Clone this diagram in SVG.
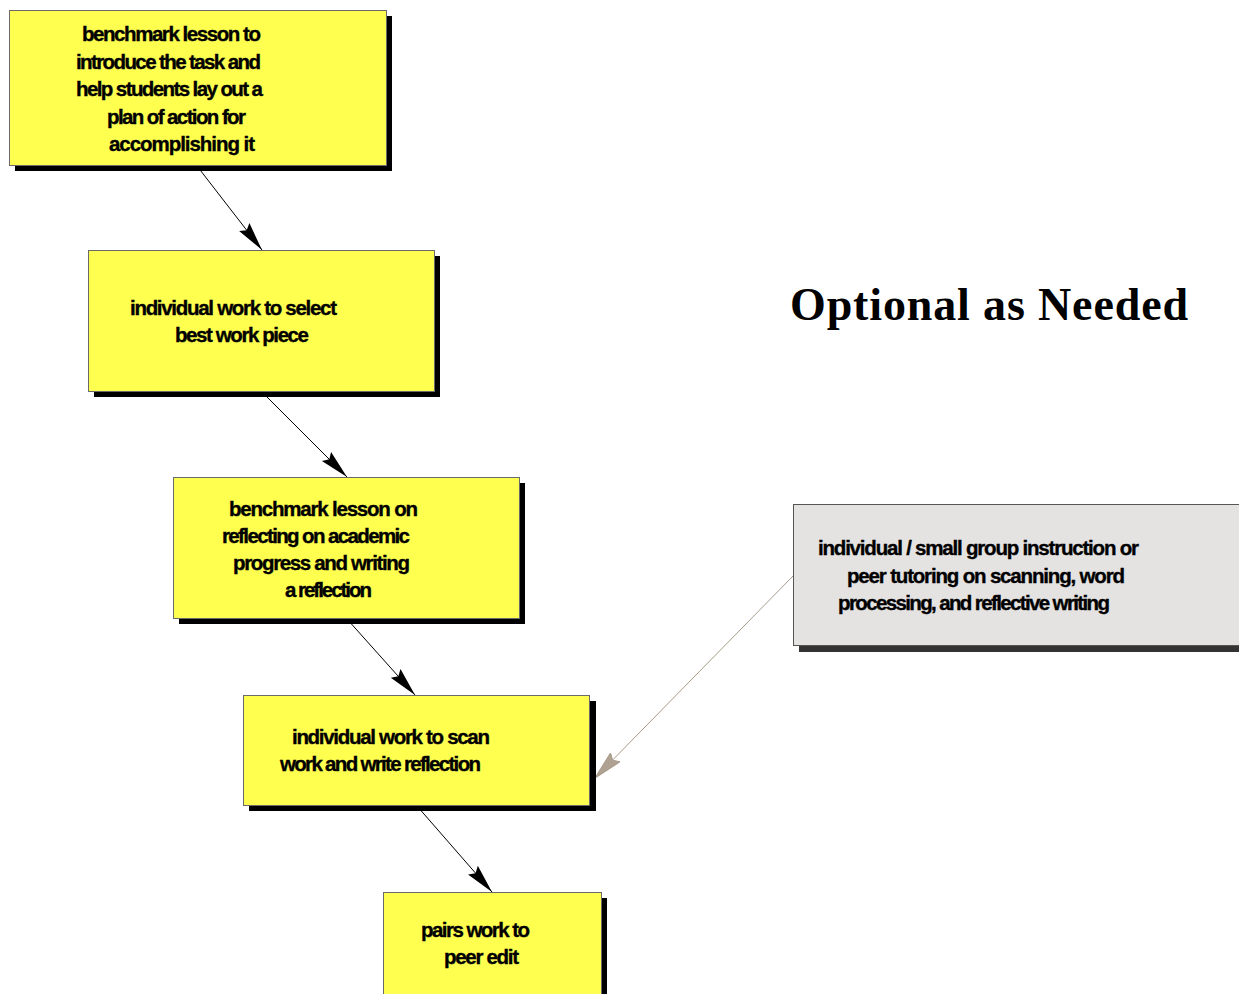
<svg xmlns="http://www.w3.org/2000/svg" width="1239" height="994" viewBox="0 0 1239 994">
<style>
.box{fill:#ffff50;stroke:#6a6a6a;stroke-width:1}
.shadow{fill:#000}
.gbox{fill:#e4e3e2;stroke:#555;stroke-width:1}
.gshadow{fill:#333}
.t{font-family:"Liberation Sans",Arial,sans-serif;font-weight:bold;font-size:20.5px;fill:#000;stroke:#000;stroke-width:0.35}
.title{font-family:"Liberation Serif","Times New Roman",serif;font-weight:bold;font-size:46px;fill:#000}
.conn{stroke:#000;stroke-width:1;fill:none;marker-end:url(#ah)}
.gconn{stroke:#a89a8a;stroke-width:1;fill:none;marker-end:url(#gah)}
</style>
<defs>
<marker id="ah" markerUnits="userSpaceOnUse" markerWidth="32" markerHeight="16" refX="29" refY="8" orient="auto">
<path d="M0,1.5 L29,8 L0,14.5 L4,8 z" fill="#000"/>
</marker>
<marker id="gah" markerUnits="userSpaceOnUse" markerWidth="32" markerHeight="16" refX="29" refY="8" orient="auto">
<path d="M0,1.5 L29,8 L0,14.5 L4,8 z" fill="#b0a292" stroke="#a89a8a" stroke-width="1"/>
</marker>
</defs>
<rect width="1239" height="994" fill="#fff"/>
<g id="connectors">
<line class="conn" x1="197" y1="166" x2="262" y2="250"/>
<line class="conn" x1="262" y1="392" x2="347" y2="477"/>
<line class="conn" x1="347" y1="619" x2="415" y2="695"/>
<line class="conn" x1="417" y1="806" x2="492" y2="892"/>
<line class="gconn" x1="793" y1="576" x2="595" y2="778"/>
</g>
<g id="node1">
<rect class="shadow" x="15" y="16" width="377" height="155"/>
<rect class="box" x="9.5" y="10.5" width="377" height="155"/>
<text class="t" x="82" y="41" textLength="179" lengthAdjust="spacing">benchmark lesson to</text>
<text class="t" x="76" y="68.5" textLength="185" lengthAdjust="spacing">introduce the task and</text>
<text class="t" x="76" y="96" textLength="187" lengthAdjust="spacing">help students lay out a</text>
<text class="t" x="107" y="123.5" textLength="139" lengthAdjust="spacing">plan of action for</text>
<text class="t" x="109" y="151" textLength="146" lengthAdjust="spacing">accomplishing it</text>
</g>
<g id="node2">
<rect class="shadow" x="94" y="256" width="346" height="141"/>
<rect class="box" x="88.5" y="250.5" width="346" height="141"/>
<text class="t" x="130" y="315" textLength="207" lengthAdjust="spacing">individual work to select</text>
<text class="t" x="175" y="342" textLength="134" lengthAdjust="spacing">best work piece</text>
</g>
<g id="node3">
<rect class="shadow" x="179" y="483" width="346" height="141"/>
<rect class="box" x="173.5" y="477.5" width="346" height="141"/>
<text class="t" x="229" y="516" textLength="189" lengthAdjust="spacing">benchmark lesson on</text>
<text class="t" x="222" y="543" textLength="188" lengthAdjust="spacing">reflecting on academic</text>
<text class="t" x="233" y="570" textLength="177" lengthAdjust="spacing">progress and writing</text>
<text class="t" x="285" y="597" textLength="87" lengthAdjust="spacing">a reflection</text>
</g>
<g id="node4">
<rect class="shadow" x="249" y="701" width="347" height="110"/>
<rect class="box" x="243.5" y="695.5" width="346" height="110"/>
<text class="t" x="292" y="744" textLength="198" lengthAdjust="spacing">individual work to scan</text>
<text class="t" x="280" y="771" textLength="201" lengthAdjust="spacing">work and write reflection</text>
</g>
<g id="node5">
<rect class="shadow" x="389" y="898" width="218" height="110"/>
<rect class="box" x="383.5" y="892.5" width="218" height="110"/>
<text class="t" x="421" y="937" textLength="109" lengthAdjust="spacing">pairs work to</text>
<text class="t" x="444" y="964" textLength="75" lengthAdjust="spacing">peer edit</text>
</g>
<g id="node6">
<rect class="gshadow" x="799" y="510" width="450" height="142"/>
<rect class="gbox" x="793.5" y="504.5" width="450" height="141"/>
<text class="t" x="818" y="555" textLength="321" lengthAdjust="spacing">individual / small group instruction or</text>
<text class="t" x="847" y="583" textLength="278" lengthAdjust="spacing">peer tutoring on scanning, word</text>
<text class="t" x="838" y="610" textLength="272" lengthAdjust="spacing">processing, and reflective writing</text>
</g>
<g id="title">
<text class="title" x="790" y="320" textLength="398" lengthAdjust="spacing">Optional as Needed</text>
</g>
</svg>
